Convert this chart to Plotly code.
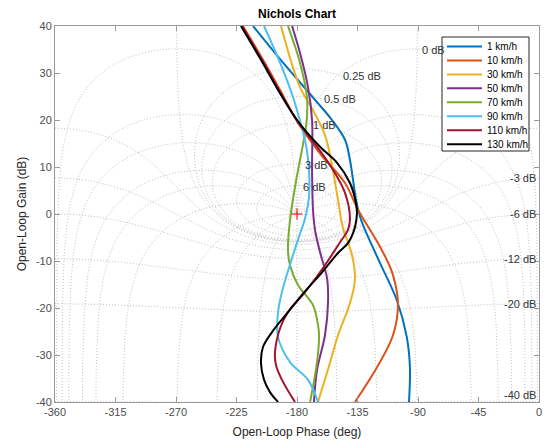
import numpy as np
import plotly.graph_objects as go

# ---------------- data (phase in deg, gain in dB) ----------------
series_names = ["1 km/h", "10 km/h", "30 km/h", "50 km/h", "70 km/h", "90 km/h", "110 km/h", "130 km/h"]

phase_1 = [-212.7, -190.4, -166.6, -154.0, -144.3, -140.6, -138.3, -136.1, -133.1, -129.4, -118.3, -105.8, -98.4, -96.0, -96.7]
gain_1 = [40.0, 32.2, 24.3, 20.0, 15.8, 11.5, 7.2, 3.0, -0.6, -3.4, -10.4, -18.3, -26.1, -32.6, -40.0]

phase_10 = [-220.2, -205.3, -192.6, -179.3, -162.1, -144.3, -134.6, -121.2, -113.1, -108.6, -104.9, -108.6, -120.5, -136.9]
gain_10 = [40.0, 32.8, 26.4, 19.4, 12.6, 6.6, 0.9, -5.5, -9.8, -13.0, -19.0, -25.8, -32.6, -40.0]

phase_30 = [-191.9, -177.8, -168.1, -159.2, -154.7, -149.5, -145.8, -140.6, -137.6, -136.9, -140.6, -149.5, -155.5, -164.4]
gain_30 = [40.0, 27.0, 22.1, 16.8, 11.5, 3.0, -3.0, -7.2, -10.9, -14.1, -19.0, -25.8, -31.7, -40.0]

phase_50 = [-183.7, -177.8, -171.8, -168.8, -168.8, -168.1, -166.6, -162.9, -157.7, -156.9, -159.2, -165.1, -167.4]
gain_50 = [40.0, 34.3, 27.0, 20.0, 9.4, 0.9, -3.4, -8.1, -13.6, -18.7, -25.8, -33.2, -40.0]

phase_70 = [-186.7, -177.8, -172.6, -172.6, -174.0, -177.8, -181.5, -185.2, -186.7, -185.2, -179.3, -168.1, -164.4, -163.6, -165.1, -170.3]
gain_70 = [40.0, 32.2, 24.9, 20.7, 17.2, 11.5, 5.7, -1.3, -7.7, -10.9, -15.1, -19.4, -23.6, -25.8, -31.5, -40.0]

phase_90 = [-204.5, -192.6, -183.0, -177.0, -173.3, -171.1, -171.1, -174.0, -179.3, -183.7, -191.2, -194.1, -194.1, -185.2, -171.8, -164.4]
gain_90 = [40.0, 32.2, 24.9, 19.0, 14.7, 9.4, 3.6, -0.9, -5.5, -9.4, -16.6, -20.9, -26.2, -31.5, -35.3, -40.0]

phase_110 = [-220.9, -206.0, -193.4, -179.3, -165.1, -153.2, -144.3, -140.6, -142.1, -148.0, -159.2, -174.0, -186.7, -192.6, -196.4, -195.6, -191.2, -181.5]
gain_110 = [40.0, 32.8, 26.4, 19.6, 14.3, 9.4, 4.5, -0.9, -3.4, -6.0, -10.9, -16.6, -20.9, -24.3, -29.6, -32.2, -35.3, -40.0]

phase_130 = [-221.7, -206.8, -194.1, -180.0, -162.9, -150.2, -140.6, -136.1, -135.4, -136.9, -142.1, -149.5, -161.4, -176.3, -186.7, -196.4, -205.3, -206.8, -204.5, -200.1, -194.1]
gain_130 = [40.0, 32.8, 26.4, 20.0, 14.3, 10.9, 6.6, 2.3, 0.2, -2.8, -6.2, -8.3, -12.4, -17.2, -20.9, -24.3, -28.3, -31.7, -35.3, -37.9, -40.0]

series_phase = [phase_1, phase_10, phase_30, phase_50, phase_70, phase_90, phase_110, phase_130]
series_gain = [gain_1, gain_10, gain_30, gain_50, gain_70, gain_90, gain_110, gain_130]

# Nichols grid levels
m_levels_db = [6, 3, 1, 0.5, 0.25, 0, -1, -3, -6, -12, -20, -40]
n_levels_deg = [1, 5, 10, 20, 30, 50, 90, 120, 150, 180, -1, -5, -10, -20, -30, -50, -90, -120, -150]
labelled_m = [6, 3, 1, 0.5, 0.25, 0, -3, -6, -12, -20, -40]

x_ticks = [-360, -315, -270, -225, -180, -135, -90, -45, 0]
y_ticks = [-40, -30, -20, -10, 0, 10, 20, 30, 40]
x_range = [-360, 0]
y_range = [-40, 40]

# ---------------- styles / layout constants ----------------
colors = ["#0072BD", "#D95319", "#EDB120", "#7E2F8E", "#77AC30", "#4DBEEE", "#A2142F", "#000000"]
grid_color = "#c0c0c0"
axis_color = "#9a9a9a"
font_family = "Liberation Sans, Arial, Helvetica, sans-serif"
W, H = 549, 442
PL, PR, PT, PB = 55, 539, 26, 402          # plot-area edges in pixels
LEG_BOX = (442, 529, 37, 151)              # legend box left, right, top, bottom (px)
LEG_ROW0, LEG_ROW_STEP = 46.5, 13.95       # first row centre, row spacing (px)
LEG_LINE = (447, 482)                      # legend sample line x-extent (px)
LEG_TEXT_X = 485


def px_x(p):
    return (p - PL) / (PR - PL)


def px_y(p):
    return (PB - p) / (PB - PT)


def to_nichols(G):
    ph = np.degrees(np.angle(G))
    ph = np.where(ph > 0, ph - 360.0, ph)
    g = 20 * np.log10(np.abs(G))
    return ph, g


def m_contour(mdb):
    M = 10 ** (mdb / 20.0)
    th = np.concatenate([np.logspace(-4, 0, 500), np.linspace(1, 2 * np.pi - 1, 900)[1:-1],
                         2 * np.pi - np.logspace(0, -4, 500)])
    T = M * np.exp(1j * th)
    return to_nichols(T / (1 - T))


def n_contour(psi):
    p = np.radians(psi)
    m = np.logspace(-3, 4, 1500)
    if abs(psi) < 90:
        m0 = 1 / np.cos(p)
        m = np.unique(np.concatenate([m, m0 * (1 + np.linspace(-0.25, 0.25, 1201))]))
    T = m * np.exp(1j * p)
    return to_nichols(T / (1 - T))


def join(curves):
    xs, ys = [], []
    for ph, g in curves:
        for a, b in zip(np.round(ph, 3), np.round(g, 3)):
            if b < 60:
                xs.append(float(a)); ys.append(float(b))
            else:
                xs.append(None); ys.append(None)
        xs.append(None); ys.append(None)
    return xs, ys


fig = go.Figure()

mx, my = join([m_contour(v) for v in m_levels_db])
nx, ny = join([n_contour(v) for v in n_levels_deg])
for gx, gy in [(mx, my), (nx, ny)]:
    fig.add_trace(go.Scatter(x=gx, y=gy, mode="lines", showlegend=False, hoverinfo="skip",
                             line=dict(color=grid_color, width=1, dash="1px,2px")))

# critical point marker
fig.add_trace(go.Scatter(x=[-180], y=[0], mode="markers", showlegend=False, hoverinfo="skip",
                         marker=dict(symbol="cross-thin", size=8, color="#ff0000",
                                     line=dict(color="#ff0000", width=1))))

for name, ph, g, c in zip(series_names, series_phase, series_gain, colors):
    fig.add_trace(go.Scatter(x=ph, y=g, mode="lines", name=name, showlegend=False,
                             line=dict(color=c, width=2, shape="spline", smoothing=1.0)))

# grid labels
annotations = []
for mdb in labelled_m:
    M = 10 ** (mdb / 20.0)
    if mdb >= 0:
        T = M * np.exp(-1j * np.radians(1.0))
        ph, g = to_nichols(np.array([T / (1 - T)]))
        annotations.append(dict(x=float(ph[0]), y=float(g[0]), text=f"{mdb:g} dB", showarrow=False,
                                xanchor="left", yanchor="middle", xshift=3, yshift=-1,
                                font=dict(size=11, color="#333333", family=font_family)))
    else:
        g0 = 20 * np.log10(M / (1 - M))
        annotations.append(dict(x=x_range[1], y=float(max(g0, y_range[0] + 1.4)), text=f"{mdb:g} dB",
                                showarrow=False, xanchor="right", yanchor="middle", xshift=-1,
                                font=dict(size=11, color="#333333", family=font_family)))

# legend (MATLAB-style compact box)
shapes = [dict(type="rect", xref="paper", yref="paper", layer="above",
               x0=px_x(LEG_BOX[0]), x1=px_x(LEG_BOX[1]), y0=px_y(LEG_BOX[3]), y1=px_y(LEG_BOX[2]),
               fillcolor="white", line=dict(color="#262626", width=1))]
for i, (name, c) in enumerate(zip(series_names, colors)):
    yy = px_y(LEG_ROW0 + i * LEG_ROW_STEP)
    shapes.append(dict(type="line", xref="paper", yref="paper", layer="above",
                       x0=px_x(LEG_LINE[0]), x1=px_x(LEG_LINE[1]), y0=yy, y1=yy,
                       line=dict(color=c, width=2)))
    annotations.append(dict(xref="paper", yref="paper", x=px_x(LEG_TEXT_X), y=yy, text=name,
                            showarrow=False, xanchor="left", yanchor="middle",
                            font=dict(size=10, color="#000000", family=font_family)))

axis_common = dict(showline=True, linecolor=axis_color, linewidth=1, mirror="ticks", ticks="inside",
                   ticklen=5, tickcolor=axis_color, showgrid=False, zeroline=False, automargin=False,
                   tickfont=dict(size=11, color="#4d4d4d", family=font_family))

fig.update_layout(
    width=W, height=H,
    margin=dict(l=PL, r=W - PR, t=PT, b=H - PB, autoexpand=False),
    paper_bgcolor="white", plot_bgcolor="white",
    font=dict(family=font_family),
    title=dict(text="<b>Nichols Chart</b>", xref="paper", x=0.5, xanchor="center",
               yref="container", y=1 - 14 / H, yanchor="middle",
               font=dict(size=12, color="#000000", family=font_family)),
    xaxis=dict(range=x_range, tickvals=x_ticks, ticktext=[str(v) for v in x_ticks],
               title=dict(text="Open-Loop Phase (deg)", standoff=10,
                          font=dict(size=12, color="#262626", family=font_family)),
               **axis_common),
    yaxis=dict(range=y_range, tickvals=y_ticks, ticktext=[str(v) for v in y_ticks],
               title=dict(text="Open-Loop Gain (dB)", standoff=6,
                          font=dict(size=12, color="#262626", family=font_family)),
               **axis_common),
    annotations=annotations,
    shapes=shapes,
    showlegend=False,
)

fig.write_html("out.html", config={"displayModeBar": False},
               post_script="document.body.style.margin='0';document.body.style.padding='0';")
